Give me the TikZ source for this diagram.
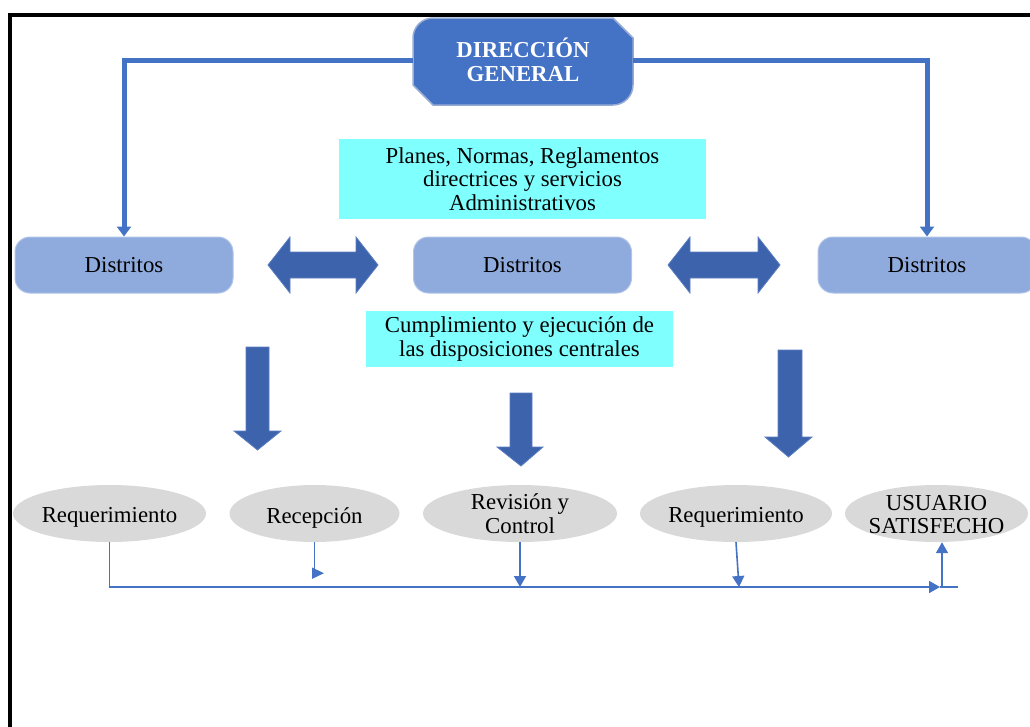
\documentclass[tikz,border=0pt]{standalone}
\usepackage{fontspec}
\setmainfont{Liberation Serif}
\usetikzlibrary{arrows.meta,calc,shapes.geometric}

\definecolor{accent}{RGB}{68,114,196}
\definecolor{headedge}{RGB}{150,172,212}
\definecolor{distfill}{RGB}{143,170,220}
\definecolor{distedge}{RGB}{176,196,232}
\definecolor{bigarrow}{RGB}{61,99,172}
\definecolor{bigedge}{RGB}{90,126,192}
\definecolor{cyanbox}{RGB}{128,255,255}
\definecolor{ovalfill}{RGB}{217,217,217}

\begin{document}
\begin{tikzpicture}[x=1pt,y=-1pt,
  txt/.style={font=\fontsize{22.8}{23.5}\selectfont, align=center, text=black},
  lowtxt/.style={txt, yshift=-4pt},
  distrito/.style={txt, rounded corners=15, fill=distfill, draw=distedge, line width=1,
    minimum width=218, minimum height=56, inner sep=0},
  notebox/.style={txt, fill=cyanbox, inner sep=0},
  oval/.style={ellipse, fill=ovalfill, inner sep=0, minimum height=57},
  heavy/.style={accent, line width=5, -{Triangle[width=14pt,length=10pt]}},
  thinline/.style={accent, line width=1.6},
  arr/.style={-{Triangle[width=12pt,length=11pt]}},
  blockarrow/.style={fill=bigarrow, draw=bigedge, line width=0.8},
]
\useasboundingbox (0,0) rectangle (1030,726);

% page frame: top and left edges
\draw[line width=4, black] (9.5,745) -- (9.5,15) -- (1050,15);

% header box with snipped and rounded corners
\filldraw[fill=accent, draw=headedge, line width=1.5]
  (433,105) -- (413,85) -- (413,38)
  .. controls (413,27) and (422,18) .. (433,18)
  -- (613,18) -- (633,38) -- (633,85)
  .. controls (633,96) and (624,105) .. (613,105) -- cycle;
\node[txt, font={\fontsize{22.8}{24}\selectfont\bfseries}, text=white,
  minimum width=220, minimum height=87, inner sep=0] (dg) at (523,60)
  {DIRECCIÓN\\GENERAL};

% district boxes
\node[distrito] (d1) at (124,265) {Distritos};
\node[distrito] (d2) at (522.5,265) {Distritos};
\node[distrito] (d3) at (927,265) {Distritos};

\draw[heavy] (dg.west) -| (d1.north);
\draw[heavy] (dg.east) -| (d3.north);

% note boxes
\node[notebox, minimum width=367, minimum height=80] (n1) at (522.5,179)
  {Planes, Normas, Reglamentos\\directrices y servicios\\Administrativos};
\node[notebox, minimum width=307, minimum height=56] (n2) at (519.5,339)
  {Cumplimiento y ejecución de\\las disposiciones centrales};

% two-headed block arrows between districts
\filldraw[blockarrow] (268,265) -- (290,237) -- (290,252) -- (356,252) -- (356,237)
  -- (378,265) -- (356,293) -- (356,278) -- (290,278) -- (290,293) -- cycle;
\filldraw[blockarrow] (668,265) -- (690,237) -- (690,252) -- (758,252) -- (758,237)
  -- (780,265) -- (758,293) -- (758,278) -- (690,278) -- (690,293) -- cycle;

% downward block arrows
\filldraw[blockarrow] (246,347) -- (269,347) -- (269,431) -- (281,431) -- (257.5,450)
  -- (234,431) -- (246,431) -- cycle;
\filldraw[blockarrow] (510,393) -- (532,393) -- (532,447) -- (543,447) -- (521,466)
  -- (497,447) -- (510,447) -- cycle;
\filldraw[blockarrow] (778,350) -- (802,350) -- (802,437) -- (812,437) -- (788.5,457)
  -- (765,437) -- (778,437) -- cycle;

% process steps
\node[oval, minimum width=193, label={[lowtxt]center:Requerimiento}] (o1) at (109.5,513.5) {};
\node[oval, minimum width=170, label={[lowtxt]center:Recepción}] (o2) at (314.5,513.5) {};
\node[oval, minimum width=194, label={[txt]center:{Revisión y\\Control}}] (o3) at (520,513.5) {};
\node[oval, minimum width=192, label={[lowtxt]center:Requerimiento}] (o4) at (736,513.5) {};
\node[oval, minimum width=183, label={[txt,yshift=-1pt]center:{USUARIO\\SATISFECHO}}] (o5) at (936.5,513.5) {};

% flow line under the steps
\coordinate (bustip) at (940,587);
\coordinate (busend) at (958,587);
\draw[thinline, arr] (o1.south) |- (bustip);
\draw[thinline] (bustip) -- (busend);

\draw[thinline] (o2.south) -- ++(0,31) coordinate (r1);
\draw[thinline, -{Triangle[width=11pt,length=12pt]}] ([xshift=-3]r1) -- ++(12.5,0);

\draw[thinline, arr] (o3.south) -- (o3.south |- bustip);
\draw[thinline, arr] (o4.south) -- ([xshift=3]o4.south |- bustip);

\coordinate (up) at (942,587);
\draw[thinline, arr] (up) -- (up |- o5.south);
\end{tikzpicture}
\end{document}
